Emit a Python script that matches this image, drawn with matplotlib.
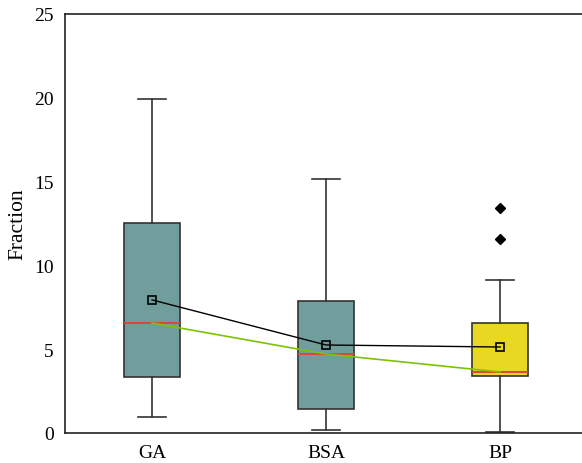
import matplotlib.pyplot as plt
import numpy as np

plt.rcParams['font.family'] = ['Liberation Serif', 'DejaVu Serif']

# data
groups = ["GA", "BSA", "BP"]
whislo = [0.95, 0.18, 0.06]
q1 = [3.34, 1.45, 3.37]
medians = [6.56, 4.71, 3.64]
q3 = [12.53, 7.88, 6.56]
whishi = [19.95, 15.15, 9.13]
means = [7.94, 5.25, 5.13]
outliers = [[], [], [13.4, 11.6]]
box_colors = ["#6f9e9c", "#6f9e9c", "#e8d824"]

stats = []
for i in range(len(groups)):
    stats.append(dict(label=groups[i], whislo=whislo[i], q1=q1[i], med=medians[i],
                      q3=q3[i], whishi=whishi[i], fliers=outliers[i]))

fig = plt.figure(figsize=(5.82, 4.64), dpi=100)
ax = fig.add_axes([0.1117, 0.0647, 0.8883, 0.903])

pos = np.arange(1, len(groups) + 1)
bp = ax.bxp(stats, positions=pos, widths=0.32, capwidths=0.16, patch_artist=True,
            boxprops=dict(edgecolor="#333333", linewidth=1.2),
            whiskerprops=dict(color="#333333", linewidth=1.2),
            capprops=dict(color="#333333", linewidth=1.2),
            medianprops=dict(color="#e0453a", linewidth=1.4),
            flierprops=dict(marker="D", markerfacecolor="black", markeredgecolor="black",
                            markersize=5.5, linestyle="none"))
for patch, c in zip(bp["boxes"], box_colors):
    patch.set_facecolor(c)

ax.plot(pos, medians, color="#7dc300", linewidth=1.2, zorder=3)
ax.plot(pos, means, color="black", linewidth=1.0, marker="s", markersize=6,
        markerfacecolor="none", markeredgecolor="black", markeredgewidth=1.2, zorder=4)

ax.set_xlim(0.5, 3.47)
ax.set_ylim(0, 25)
ax.set_yticks([0, 5, 10, 15, 20, 25])
ax.set_xticks(pos)
ax.set_xticklabels(groups)
ax.tick_params(length=0, labelsize=14, pad=8)
ax.set_ylabel("Fraction", fontsize=15.5, labelpad=5)
ax.spines["right"].set_visible(False)
for s in ["left", "top", "bottom"]:
    ax.spines[s].set_linewidth(1.2)
    ax.spines[s].set_color("#222222")

fig.savefig("out.png", dpi=100)
